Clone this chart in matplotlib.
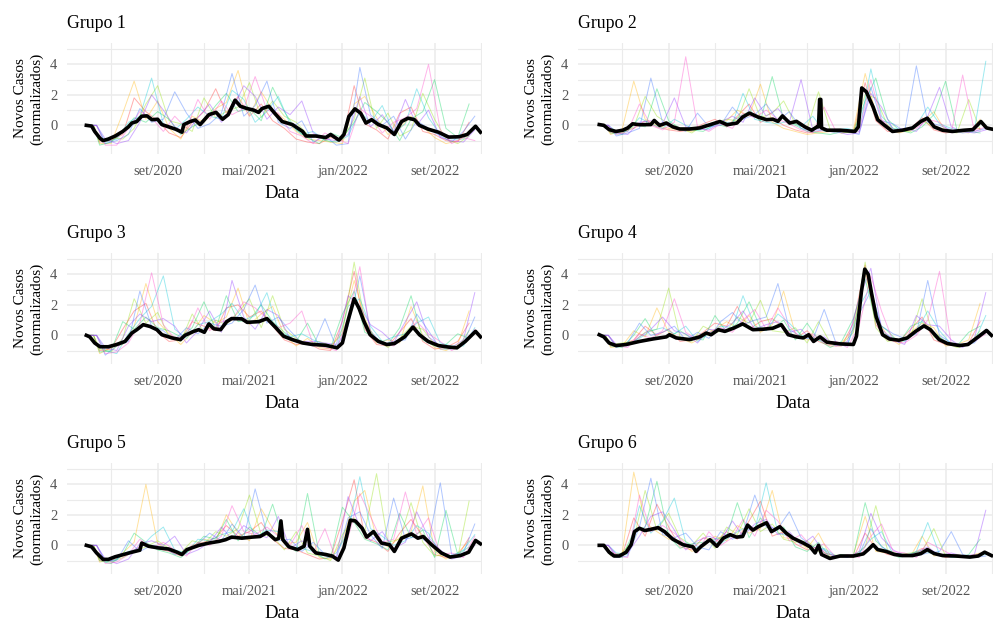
import pandas as pd
import matplotlib
matplotlib.use("Agg")
import matplotlib.pyplot as plt

W, H = 995, 622
GRID = "#EBEBEB"
TICK = "#555555"
CORES = ["#FF2A2A", "#FFB300", "#8FE000", "#00D65A", "#00C8D8", "#2F6BFF", "#8A2BFF", "#FF3DC8"]

plt.rcParams.update({
    "font.family": ["Liberation Serif", "DejaVu Serif"],
    "figure.facecolor": "white", "axes.facecolor": "white",
})

# ---------------- media do grupo (linha preta) ----------------
datas_g1 = ["2020-02-26", "2020-03-11", "2020-03-19", "2020-04-02", "2020-04-10", "2020-04-24", "2020-05-12",
            "2020-06-01", "2020-06-16", "2020-06-25", "2020-07-08", "2020-07-21", "2020-08-04", "2020-08-17",
            "2020-09-01", "2020-09-12", "2020-09-30", "2020-10-18", "2020-11-04", "2020-11-09", "2020-11-26",
            "2020-12-09", "2020-12-22", "2021-01-14", "2021-02-02", "2021-02-19", "2021-03-06", "2021-03-24",
            "2021-04-07", "2021-04-25", "2021-05-12", "2021-05-25", "2021-06-03", "2021-06-21", "2021-07-08",
            "2021-07-26", "2021-08-22", "2021-09-18", "2021-09-27", "2021-10-23", "2021-11-18", "2021-12-01",
            "2021-12-23", "2022-01-05", "2022-01-18", "2022-02-03", "2022-02-18", "2022-03-04", "2022-03-19",
            "2022-04-06", "2022-04-28", "2022-05-18", "2022-06-06", "2022-06-23", "2022-07-10", "2022-07-23",
            "2022-08-15", "2022-09-11", "2022-10-08", "2022-11-04", "2022-11-26", "2022-12-18", "2022-12-31"]
media_g1 = [0, -0.05, -0.4, -0.85, -1.0, -0.9, -0.7, -0.4, -0.1, 0.15, 0.25, 0.6, 0.62, 0.37, 0.4, 0.05, -0.1,
            -0.25, -0.45, 0.05, 0.25, 0.35, 0.05, 0.7, 0.85, 0.4, 0.7, 1.65, 1.25, 1.1, 1.0, 0.85, 1.1, 1.25, 0.75,
            0.25, 0.05, -0.4, -0.7, -0.7, -0.8, -0.6, -0.97, -0.6, 0.58, 1.08, 0.8, 0.15, 0.37, 0.05, -0.17, -0.6,
            0.25, 0.47, 0.37, 0, -0.25, -0.45, -0.77, -0.75, -0.6, -0.06, -0.45]

datas_g2 = ["2020-03-02", "2020-03-14", "2020-03-28", "2020-04-15", "2020-05-03", "2020-05-16", "2020-05-29",
            "2020-06-16", "2020-07-16", "2020-07-25", "2020-08-08", "2020-08-26", "2020-09-12", "2020-09-30",
            "2020-10-26", "2020-11-22", "2020-12-19", "2021-01-14", "2021-02-02", "2021-02-28", "2021-03-15",
            "2021-04-02", "2021-04-25", "2021-05-17", "2021-06-03", "2021-06-16", "2021-06-28", "2021-07-17",
            "2021-08-04", "2021-08-26", "2021-09-13", "2021-09-27", "2021-10-01", "2021-10-04", "2021-10-07",
            "2021-10-09", "2021-10-23", "2021-11-27", "2022-01-05", "2022-01-14", "2022-01-23", "2022-02-04",
            "2022-02-22", "2022-03-06", "2022-03-24", "2022-04-14", "2022-05-10", "2022-06-06", "2022-06-28",
            "2022-07-15", "2022-08-02", "2022-08-24", "2022-09-19", "2022-10-20", "2022-11-12", "2022-12-03",
            "2022-12-18", "2022-12-31"]
media_g2 = [0.05, 0, -0.28, -0.4, -0.32, -0.17, 0.1, 0.04, 0.05, 0.32, 0, 0.15, -0.1, -0.24, -0.24, -0.17, 0.04,
            0.25, 0.04, 0.15, 0.54, 0.8, 0.54, 0.37, 0.4, 0.26, 0.62, 0.15, 0.26, -0.1, -0.32, -0.1, -0.1, 1.7, 1.7,
            -0.17, -0.32, -0.32, -0.4, -0.1, 2.45, 2.2, 1.2, 0.37, 0, -0.4, -0.32, -0.17, 0.26, 0.47, -0.1, -0.32,
            -0.4, -0.32, -0.28, 0.25, -0.17, -0.24]

datas_g3 = ["2020-02-26", "2020-03-06", "2020-03-19", "2020-04-02", "2020-04-24", "2020-05-16", "2020-06-07",
            "2020-06-25", "2020-07-08", "2020-07-25", "2020-08-12", "2020-08-30", "2020-09-12", "2020-10-09",
            "2020-10-31", "2020-11-12", "2020-12-05", "2020-12-18", "2021-01-02", "2021-01-14", "2021-01-27",
            "2021-02-14", "2021-03-02", "2021-03-15", "2021-04-11", "2021-04-25", "2021-05-26", "2021-06-16",
            "2021-07-08", "2021-07-30", "2021-08-22", "2021-09-18", "2021-10-14", "2021-11-18", "2021-12-18",
            "2022-01-01", "2022-01-14", "2022-02-01", "2022-02-14", "2022-02-27", "2022-03-15", "2022-04-06",
            "2022-04-28", "2022-05-18", "2022-06-14", "2022-07-06", "2022-07-23", "2022-08-15", "2022-09-11",
            "2022-10-08", "2022-10-30", "2022-11-21", "2022-12-18", "2022-12-31"]
media_g3 = [0, -0.1, -0.5, -0.75, -0.75, -0.6, -0.4, 0.15, 0.37, 0.7, 0.58, 0.37, 0.04, -0.17, -0.28, 0, 0.26,
            0.37, 0.2, 0.75, 0.43, 0.37, 0.9, 1.1, 1.08, 0.85, 0.9, 1.1, 0.54, -0.06, -0.28, -0.5, -0.6, -0.65,
            -0.82, -0.5, 0.8, 2.4, 1.76, 0.9, 0.04, -0.4, -0.6, -0.54, -0.1, 0.54, 0.04, -0.4, -0.67, -0.77, -0.82,
            -0.4, 0.26, -0.1]

datas_g4 = ["2020-03-02", "2020-03-14", "2020-03-28", "2020-04-15", "2020-05-12", "2020-06-16", "2020-07-21",
            "2020-08-26", "2020-09-03", "2020-09-21", "2020-10-26", "2020-11-22", "2020-12-09", "2020-12-22",
            "2021-01-10", "2021-01-27", "2021-02-19", "2021-03-15", "2021-04-11", "2021-05-08", "2021-06-03",
            "2021-06-25", "2021-07-13", "2021-08-04", "2021-08-22", "2021-09-05", "2021-09-18", "2021-10-05",
            "2021-10-23", "2021-11-27", "2022-01-01", "2022-01-09", "2022-01-22", "2022-01-31", "2022-02-09",
            "2022-02-18", "2022-03-02", "2022-03-19", "2022-04-06", "2022-05-01", "2022-05-23", "2022-06-14",
            "2022-07-06", "2022-07-23", "2022-08-15", "2022-09-06", "2022-10-08", "2022-10-30", "2022-11-26",
            "2022-12-18", "2022-12-31"]
media_g4 = [0.04, -0.1, -0.5, -0.67, -0.6, -0.4, -0.24, -0.1, 0.04, -0.17, -0.28, -0.1, 0.15, 0.04, 0.37, 0.26,
            0.47, 0.75, 0.37, 0.4, 0.47, 0.7, 0.04, -0.1, -0.17, 0.04, -0.4, -0.1, -0.45, -0.56, -0.6, -0.06, 2.84,
            4.34, 4.0, 2.73, 1.22, 0.04, -0.24, -0.32, -0.17, 0.26, 0.62, 0.37, -0.28, -0.54, -0.67, -0.6, -0.1,
            0.32, 0]

datas_g5 = ["2020-02-26", "2020-03-11", "2020-03-24", "2020-04-10", "2020-04-24", "2020-05-12", "2020-06-03",
            "2020-06-25", "2020-07-16", "2020-07-21", "2020-08-08", "2020-09-03", "2020-09-30", "2020-10-22",
            "2020-11-04", "2020-11-17", "2020-12-19", "2021-01-14", "2021-02-10", "2021-02-27", "2021-03-15",
            "2021-04-11", "2021-05-08", "2021-05-29", "2021-06-16", "2021-07-08", "2021-07-17", "2021-07-23",
            "2021-07-28", "2021-08-13", "2021-09-05", "2021-09-22", "2021-10-01", "2021-10-07", "2021-10-23",
            "2021-11-18", "2021-12-05", "2021-12-21", "2022-01-05", "2022-01-22", "2022-02-04", "2022-02-22",
            "2022-03-06", "2022-03-24", "2022-04-14", "2022-05-05", "2022-05-18", "2022-06-06", "2022-07-02",
            "2022-07-19", "2022-08-02", "2022-08-24", "2022-09-19", "2022-10-12", "2022-11-08", "2022-11-30",
            "2022-12-18", "2022-12-31"]
media_g5 = [0, -0.1, -0.5, -0.92, -0.92, -0.75, -0.6, -0.45, -0.32, 0.15, -0.06, -0.17, -0.24, -0.45, -0.6, -0.28,
            0, 0.15, 0.26, 0.37, 0.54, 0.47, 0.54, 0.58, 0.84, 0.37, 0.45, 1.6, 0.37, -0.1, -0.28, -0.06, 1.05,
            -0.06, -0.5, -0.6, -0.7, -0.97, -0.17, 1.65, 1.6, 1.12, 0.54, 0.9, 0.15, 0.04, -0.4, 0.47, 0.75, 0.47,
            0.58, 0.04, -0.5, -0.77, -0.67, -0.45, 0.32, 0.1]

datas_g6 = ["2020-03-02", "2020-03-14", "2020-03-28", "2020-04-10", "2020-04-24", "2020-05-12", "2020-05-25",
            "2020-06-03", "2020-06-16", "2020-06-30", "2020-07-16", "2020-08-04", "2020-08-21", "2020-09-12",
            "2020-10-09", "2020-11-04", "2020-11-12", "2020-11-26", "2020-12-19", "2021-01-06", "2021-01-23",
            "2021-02-10", "2021-02-27", "2021-03-15", "2021-03-28", "2021-04-11", "2021-04-25", "2021-05-17",
            "2021-05-30", "2021-06-21", "2021-07-08", "2021-07-26", "2021-08-22", "2021-09-09", "2021-09-22",
            "2021-10-01", "2021-10-09", "2021-10-31", "2021-11-27", "2022-01-01", "2022-01-27", "2022-02-09",
            "2022-02-22", "2022-03-06", "2022-03-28", "2022-04-19", "2022-05-10", "2022-06-06", "2022-06-28",
            "2022-07-15", "2022-08-02", "2022-08-24", "2022-09-28", "2022-11-04", "2022-11-26", "2022-12-13",
            "2022-12-31"]
media_g6 = [0, 0, -0.45, -0.7, -0.7, -0.45, 0.04, 0.9, 1.12, 0.97, 1.05, 1.16, 0.9, 0.4, 0.04, -0.1, -0.4, -0.06,
            0.37, -0.06, 0.47, 0.7, 0.54, 0.58, 1.33, 1.0, 1.22, 1.48, 0.9, 1.22, 0.8, 0.47, 0.15, -0.1, -0.5, 0,
            -0.6, -0.86, -0.7, -0.7, -0.56, -0.28, 0.04, -0.28, -0.4, -0.6, -0.67, -0.67, -0.54, -0.28, -0.54,
            -0.67, -0.7, -0.77, -0.7, -0.45, -0.67]

# ---------------- series individuais (linhas finas, mensais) ----------------
finas_g1 = [
    [0, 0, -1.1, -1.0, -0.6, 1.8, 0.9, 0.3, -0.5, -0.8, 0.2, 0.9, 2.4, 0.8, 1.9, 0.6, 1.4, 0.3, -0.2, -0.9, -1.1, -1.2, -0.8, -1.0, 2.6, 0.1, -0.3, -0.9, 0.8, 1.2, -0.4, -0.6, -1.0, -1.1, 0.2],
    [0, 0, -1.2, -1.2, 0.8, 2.9, 0.4, 1.6, -0.2, -0.9, 0.6, 0.2, 1.1, 1.5, 3.6, 0.7, 2.2, 1.0, 0.4, -0.4, -0.9, -1.0, -1.1, -1.2, 1.4, 1.9, 0.5, -0.6, -0.2, 0.6, -0.1, -0.8, -1.2, -1.0, -0.6],
    [0, 0, -1.0, -0.8, -0.9, -0.2, 1.4, 2.6, 0.3, 0.1, -0.4, 1.8, 0.5, 0.9, 1.2, 2.8, 0.5, 1.6, 0.6, 0.2, -0.6, -0.8, -1.1, -0.9, 0.4, 3.1, -0.2, 0.8, -0.7, -0.3, 2.1, 0.4, -0.9, -1.2, -0.7],
    [0, 0, -1.3, -1.1, -0.4, 0.5, 0.2, 0.9, 0.4, -0.6, -0.1, 0.3, 1.3, 2.1, 0.9, 1.1, 0.3, 2.5, 0.9, -0.3, -0.8, -1.2, -0.5, -0.8, 0.2, 1.5, 0.9, 0.2, -1.0, 0.4, 0.9, 3.0, -0.2, -0.8, 1.4],
    [0, 0, -1.1, -0.9, 0.2, 0.6, 3.1, 0.1, -0.3, 0.4, 1.2, 0.6, 0.4, 2.3, 1.7, 0.2, 0.9, 1.9, 0.1, -0.6, -0.4, -1.0, -1.1, -0.7, 0.9, 0.2, 1.3, -0.5, 0.1, 2.4, 0.5, -0.6, -0.9, -0.9, 0.0],
    [0, 0, -1.2, -1.0, -0.6, 1.1, 0.2, 0.4, 2.2, 0.8, -0.2, 0.1, 0.8, 3.4, 0.6, 1.3, 2.9, 0.2, -0.2, 0.3, -1.1, -0.7, -1.3, -1.2, 3.8, 0.7, 0.0, 0.6, -0.9, 0.3, -0.2, -0.7, -1.1, -0.4, 0.6],
    [0, 0, -0.9, -1.2, -1.0, 0.2, 2.0, 1.0, -0.1, -0.5, 0.5, 1.4, 0.2, 1.0, 2.6, 1.9, 0.4, 1.2, 0.7, 1.6, -0.5, -0.9, -1.0, -0.6, 1.9, -0.1, 0.7, -0.4, 1.7, 0.0, 1.0, -0.8, -1.0, -1.1, -0.3],
    [0, 0, -1.3, -1.3, -0.2, 0.9, 0.5, -0.4, 0.6, -0.2, 1.7, 0.4, 1.6, 0.7, 1.1, 3.2, 1.0, 0.8, -0.4, -0.7, -1.2, -0.5, -0.9, -1.2, 1.1, 0.6, -0.5, 0.2, 0.5, 1.1, 4.0, -0.3, -1.2, -0.8, -1.0],
]
finas_g2 = [
    [0, 0, -0.5, -0.4, -0.2, 0.3, -0.1, -0.3, -0.4, -0.3, 0.1, 0.4, -0.1, 0.6, 1.4, 0.2, 0.5, 0.0, -0.3, -0.5, -0.4, -0.3, -0.4, -0.5, 2.8, 0.3, -0.4, -0.4, -0.2, 0.5, -0.3, -0.5, -0.4, -0.3, -0.2],
    [0, 0, -0.6, -0.3, 2.9, 0.4, 0.0, -0.2, -0.3, -0.4, -0.1, 0.2, 0.3, 1.0, 0.6, 2.7, 0.2, -0.2, -0.4, -0.6, -0.5, -0.4, -0.5, -0.3, 3.4, 0.8, -0.2, -0.5, -0.3, 0.2, 0.9, -0.4, -0.4, -0.5, 0.4],
    [0, 0, -0.4, -0.5, -0.1, 1.9, 0.6, 0.1, -0.2, -0.5, 0.0, 0.2, 0.4, 0.3, 2.4, 0.5, 0.8, 1.6, 0.1, -0.2, 2.2, -0.3, -0.5, -0.4, 2.0, 1.8, 0.0, -0.4, -0.4, 0.3, -0.1, -0.4, -0.5, 1.7, -0.3],
    [0, 0, -0.5, -0.6, 0.1, -0.1, 2.4, 0.3, -0.2, -0.3, -0.4, 0.1, -0.1, 0.5, 0.9, 0.3, 3.2, 0.4, 0.0, -0.4, -0.5, -0.6, -0.4, -0.5, 1.6, 3.1, 0.4, -0.3, -0.5, -0.1, 0.7, 2.9, -0.3, -0.4, -0.5],
    [0, 0, -0.4, -0.4, 0.5, 0.1, -0.2, 0.4, 0.0, -0.3, -0.2, 0.3, 0.1, 2.1, 0.4, 0.2, 0.1, 0.3, -0.1, 0.6, -0.4, -0.3, -0.2, -0.4, 3.7, 0.6, -0.2, -0.3, 0.0, 1.2, 0.1, -0.2, -0.4, -0.3, 4.2],
    [0, 0, -0.7, -0.5, -0.2, 3.1, 0.2, -0.1, -0.4, 0.8, -0.1, 0.0, 1.2, 0.4, 0.7, 1.4, 0.3, 0.9, -0.2, -0.4, -0.3, -0.5, -0.4, -0.6, 2.5, 0.3, 0.1, -0.4, 3.9, 0.2, 0.0, -0.3, -0.5, -0.4, -0.2],
    [0, 0, -0.5, -0.6, 0.2, 0.3, 0.1, 1.8, -0.1, -0.2, -0.3, 0.2, 0.6, 0.2, 1.8, 0.6, 1.1, 0.2, 3.0, -0.3, -0.2, -0.4, -0.6, -0.5, 2.1, 1.2, -0.3, -0.2, -0.4, 0.6, 2.5, -0.1, -0.4, -0.5, -0.3],
    [0, 0, -0.6, -0.4, 1.4, 0.0, -0.3, 0.2, 4.5, -0.1, -0.4, 0.1, -0.2, 0.8, 0.5, 1.0, 0.4, 0.1, -0.3, -0.5, 1.2, -0.4, -0.3, -0.4, 3.0, 0.4, -0.4, -0.3, -0.2, 0.4, 0.2, -0.5, 3.3, -0.4, -0.1],
]
finas_g3 = [
    [0, 0, -1.0, -0.9, 0.4, 1.6, 2.1, 0.2, -0.4, -0.3, 0.9, 0.6, 0.3, 1.8, 2.0, 1.2, 1.6, 0.6, -0.3, -0.6, -0.5, -0.9, -1.0, 0.9, 4.2, 0.4, -0.6, -0.7, 0.2, 1.1, -0.4, -0.9, -0.8, -0.4, 0.8],
    [0, 0, -1.2, -0.8, -0.6, 0.6, 3.4, 0.9, 0.1, -0.6, 0.2, 1.3, 0.8, 1.2, 3.1, 0.7, 1.4, 1.9, 0.0, -0.7, -0.2, -0.8, -0.9, 0.4, 3.6, 1.1, -0.5, -0.3, -0.5, 1.9, 0.0, -0.8, -1.0, -0.6, 1.6],
    [0, 0, -0.9, -1.1, -0.2, 2.4, 0.8, 1.5, -0.1, -0.4, 1.4, 0.2, 1.0, 0.7, 1.5, 2.4, 0.5, 2.6, 0.4, -0.2, -0.6, -0.4, -0.7, 0.1, 4.8, 0.9, -0.3, -0.8, -0.2, 0.6, 0.4, -0.6, -0.9, -0.8, 0.3],
    [0, 0, -1.1, -1.0, 0.9, 0.4, 1.2, 0.5, 0.3, -0.1, 0.5, 2.2, 0.4, 2.6, 0.9, 1.0, 2.0, 0.9, 0.2, -0.4, 0.8, -0.7, -0.8, 1.4, 2.9, 0.2, -0.2, -0.6, 0.5, 2.6, -0.3, -0.7, -0.6, 0.1, -0.2],
    [0, 0, -1.0, -1.2, 0.1, 1.1, 1.9, 3.9, 0.4, -0.2, 0.7, 0.9, 1.4, 2.1, 1.0, 1.3, 2.8, 0.3, -0.1, 0.1, -0.3, -0.6, -0.9, 1.9, 2.4, 0.6, -0.4, -0.1, 0.1, 0.8, 1.2, -0.5, -0.7, -0.7, 0.5],
    [0, 0, -1.3, -0.7, -0.4, 2.9, 0.6, 0.3, -0.3, 0.5, 0.1, 0.8, 0.6, 0.8, 1.7, 3.3, 0.8, 1.2, 0.3, -0.5, -0.7, 1.1, -0.8, 0.6, 3.9, 0.3, -0.6, -0.4, -0.3, 1.4, 0.3, -0.9, -0.9, -0.5, 1.2],
    [0, 0, -0.8, -1.0, 0.6, 1.4, 0.9, 1.1, 0.6, -0.5, 0.3, 1.6, 0.2, 3.6, 1.2, 0.4, 1.7, 1.3, -0.2, -0.4, -0.4, -0.5, -0.6, 2.6, 1.9, 0.7, 0.2, -0.5, 0.9, 2.2, -0.1, -0.7, -0.8, -0.3, 2.8],
    [0, 0, -1.2, -1.1, -0.5, 0.8, 4.1, 0.7, -0.2, 0.0, 1.8, 0.3, 0.9, 1.0, 2.2, 1.8, 1.1, 0.5, 0.8, 1.6, -0.6, -0.8, -1.0, 1.2, 4.5, 0.1, -0.5, -0.7, 0.0, 0.9, 0.1, -0.4, -1.0, -0.6, 0.4],
]
finas_g4 = [
    [0, 0, -0.7, -0.6, -0.3, 0.6, 0.0, 0.4, -0.4, -0.3, 0.2, 0.8, 0.6, 1.9, 0.4, 0.9, 1.1, 0.5, -0.2, 0.3, -0.4, -0.7, -0.7, 0.8, 4.6, 0.7, -0.3, -0.4, 0.4, 1.2, -0.3, -0.6, -0.7, -0.5, 0.9],
    [0, 0, -0.8, -0.7, 0.3, -0.1, 1.8, 0.2, -0.2, -0.5, -0.1, 0.4, 0.9, 0.5, 1.3, 0.2, 0.7, 2.9, 0.1, -0.3, -0.2, -0.6, -0.5, 0.4, 4.1, 1.3, -0.1, -0.6, 0.2, 0.8, 0.5, -0.7, -0.6, -0.3, 2.1],
    [0, 0, -0.6, -0.5, -0.4, 0.2, 0.4, 3.1, -0.1, -0.4, 0.6, 0.2, 0.3, 1.2, 0.8, 2.3, 0.3, 0.2, 0.5, -0.5, 0.9, -0.5, -0.6, 0.2, 4.8, 0.5, -0.4, -0.3, -0.1, 2.4, -0.1, -0.5, -0.8, -0.6, 0.3],
    [0, 0, -0.7, -0.8, 0.0, 1.1, -0.2, -0.1, 0.3, -0.2, -0.3, 1.3, 0.2, 0.8, 2.2, 0.5, 0.4, 1.0, -0.3, 0.8, -0.3, -0.8, -0.4, 1.1, 3.7, 0.9, 0.3, -0.5, 0.6, 0.9, 0.2, -0.4, -0.7, 0.2, 0.6],
    [0, 0, -0.7, -0.6, -0.2, 0.3, 0.5, 0.1, 0.6, -0.4, 0.1, 0.6, 0.5, 2.6, 0.6, 0.3, 1.4, 0.8, 0.0, -0.2, -0.4, -0.6, -0.7, 1.9, 3.2, 0.2, -0.2, -0.4, 0.3, 1.6, 0.3, -0.6, -0.7, -0.4, 1.3],
    [0, 0, -0.8, -0.5, 0.8, 0.0, 0.2, 0.6, -0.3, 0.2, -0.2, 0.9, 1.5, 0.7, 1.0, 1.2, 3.4, 0.4, -0.1, -0.3, 1.7, -0.5, -0.6, 1.4, 2.9, 0.6, 0.1, -0.2, 0.1, 3.6, 0.0, -0.5, -0.6, -0.5, 0.4],
    [0, 0, -0.6, -0.7, -0.1, 0.4, 1.2, 0.3, 0.1, -0.5, 0.4, 0.3, 0.8, 1.6, 0.4, 0.7, 0.9, 0.2, 0.4, -0.4, -0.1, -0.7, -0.4, 2.4, 4.4, 0.4, -0.3, -0.6, 1.3, 0.7, 0.6, -0.3, -0.8, -0.2, 2.8],
    [0, 0, -0.7, -0.8, 0.1, -0.2, 0.3, 2.4, 0.2, -0.3, 0.2, 0.5, 0.2, 1.0, 1.7, 0.4, 1.8, 0.6, -0.2, 0.1, -0.5, -0.4, -0.8, 0.6, 3.9, 1.6, -0.4, -0.5, 0.0, 1.0, 4.2, -0.6, -0.6, -0.4, 0.1],
]
finas_g5 = [
    [0, 0, -1.0, -1.0, -0.7, -0.3, 0.1, -0.2, -0.4, -0.7, 0.0, 0.2, 0.5, 1.3, 0.6, 0.9, 1.5, 0.4, -0.2, -0.3, -0.6, -0.9, -0.8, 1.6, 4.3, 0.5, 0.2, -0.4, 0.8, 1.7, 0.6, -0.6, -0.8, -0.7, 0.5],
    [0, 0, -1.1, -0.9, -0.5, 0.2, 4.0, 0.1, -0.3, -0.6, -0.1, 0.4, 0.2, 2.0, 0.8, 0.3, 2.4, 1.1, 0.1, 0.2, 1.5, -0.8, -0.9, 0.3, 2.9, 3.6, 0.4, -0.1, 0.5, 0.9, 3.9, -0.4, -0.9, -0.5, 0.3],
    [0, 0, -0.9, -1.1, -0.8, -0.4, -0.1, 0.3, -0.2, -0.5, 0.3, 0.1, 0.9, 0.6, 1.1, 3.3, 0.7, 0.6, -0.3, 0.9, -0.5, -0.7, -1.0, 0.7, 1.8, 0.9, 4.7, 0.2, 0.4, 2.8, 0.2, -0.7, -0.6, -0.8, 2.9],
    [0, 0, -1.0, -1.2, -0.6, 0.8, 0.2, -0.3, -0.5, -0.8, -0.2, 0.6, 0.4, 1.7, 0.3, 1.2, 0.6, 2.7, 0.2, -0.4, 3.4, -0.6, -0.8, 2.5, 1.5, 0.4, 0.1, -0.3, 2.1, 0.5, 1.0, -0.8, 2.3, -0.6, -0.1],
    [0, 0, -1.1, -0.9, -0.4, -0.2, 0.6, 1.2, -0.3, -0.5, 0.4, 0.3, 0.7, 0.9, 2.4, 0.5, 1.0, 0.9, -0.1, -0.2, -0.4, -0.9, -0.5, 0.9, 4.5, 1.1, 0.6, 0.0, 0.3, 1.3, 0.8, -0.5, -0.7, -0.3, 0.7],
    [0, 0, -1.0, -1.0, 0.3, -0.4, 0.0, -0.1, -0.6, -0.4, 0.1, 0.8, 0.3, 1.4, 0.5, 3.7, 0.8, 0.3, 0.4, -0.4, 0.2, -0.6, -0.9, 1.8, 2.2, 0.7, -0.2, 3.1, 0.4, 0.6, 0.2, 4.1, -0.6, -0.5, 1.4],
    [0, 0, -0.9, -1.2, -0.9, 0.1, 0.3, 0.0, 0.6, -0.6, -0.3, 0.2, 1.2, 0.4, 1.3, 0.8, 0.5, 1.9, -0.2, 0.3, -0.3, -0.7, -0.8, 3.2, 1.2, 0.3, 0.9, -0.2, 0.2, 2.2, 0.5, -0.3, -0.9, -0.7, 0.0],
    [0, 0, -1.2, -1.1, -0.6, 0.4, -0.2, 0.2, -0.3, -0.7, 0.2, 0.0, 0.6, 2.6, 0.9, 0.7, 1.2, 0.6, 0.0, 1.3, -0.5, 1.1, -1.0, 0.5, 3.4, 1.9, 0.2, 0.4, 3.5, 0.7, 1.8, -0.6, -0.5, -0.8, 0.6],
]
finas_g6 = [
    [0, 0, -0.6, -0.7, 1.8, 0.6, 2.7, 1.2, -0.1, -0.3, 0.5, 0.2, 0.9, 0.4, 1.6, 2.9, 0.6, 0.9, 0.1, -0.3, -0.1, -0.8, -0.7, -0.8, 0.8, -0.2, -0.6, -0.7, -0.6, -0.2, -0.5, -0.8, -0.7, -0.8, -0.6],
    [0, 0, -0.5, -0.6, 4.8, 1.5, 0.9, 0.4, 0.3, -0.4, -0.1, 0.6, 0.3, 1.3, 0.8, 1.1, 3.6, 0.5, 0.4, -0.2, 0.8, -0.7, -0.8, -0.6, 1.9, -0.4, -0.5, -0.6, -0.7, 0.6, -0.7, -0.6, -0.8, -0.7, -0.5],
    [0, 0, -0.7, -0.5, 0.4, 3.6, 1.0, 2.1, 0.5, 0.0, 0.8, -0.2, 1.2, 0.7, 2.4, 0.9, 1.4, 0.4, 0.2, 0.3, -0.4, -0.6, -0.7, -0.7, -0.1, 2.6, -0.3, -0.6, -0.5, -0.4, 1.1, -0.7, -0.6, -0.8, -0.7],
    [0, 0, -0.6, -0.8, 0.9, 1.2, 4.2, 0.6, -0.2, 0.1, 0.2, 0.4, 0.6, 2.8, 0.5, 1.8, 0.9, 1.2, -0.1, -0.4, 0.2, -0.8, -0.6, -0.7, 2.8, 0.3, -0.4, -0.8, -0.6, -0.3, -0.6, -0.7, -0.8, -0.6, 0.4],
    [0, 0, -0.5, -0.6, 2.6, 0.8, 1.6, 3.1, 0.2, -0.2, 0.4, 0.1, 0.7, 1.1, 1.0, 4.1, 0.8, 0.6, 0.3, -0.3, -0.2, -0.7, -0.8, -0.5, 0.4, 0.9, -0.6, -0.7, -0.4, 1.5, -0.6, -0.8, -0.7, -0.7, -0.6],
    [0, 0, -0.8, -0.7, 1.2, 4.4, 0.7, 0.5, 0.8, -0.1, -0.3, 0.9, 0.4, 0.8, 3.3, 1.2, 1.1, 2.2, 0.5, -0.1, -0.3, -0.8, -0.7, -0.6, 1.1, -0.1, -0.5, -0.6, -0.7, -0.5, -0.4, 0.9, -0.6, -0.8, -0.7],
    [0, 0, -0.6, -0.5, 0.6, 1.9, 2.2, 1.0, -0.3, 0.3, 0.6, 0.3, 1.6, 0.6, 1.4, 1.7, 0.7, 0.9, 0.0, 0.6, -0.5, -0.7, -0.8, -0.4, 2.1, 0.5, -0.3, -0.7, -0.5, -0.1, -0.7, -0.5, -0.7, -0.6, 2.3],
    [0, 0, -0.7, -0.8, 3.3, 0.9, 1.3, 0.8, 0.1, -0.5, 0.9, 0.0, 0.5, 1.7, 0.6, 2.3, 1.6, 0.3, 0.7, -0.2, 0.1, -0.8, -0.6, -0.8, 0.6, 1.4, -0.4, -0.5, -0.8, 0.2, -0.2, -0.6, -0.8, -0.7, -0.4],
]

# inicio das series e primeira queda para cada coluna de paineis
inicio_esq = ["2020-02-26", "2020-03-16", "2020-03-24"]
inicio_dir = ["2020-03-02", "2020-03-18", "2020-03-26"]
meses_a = pd.date_range("2020-04-01", "2022-12-01", freq="MS")
meses_b = meses_a + pd.Timedelta(days=15)

grupos = [
    ("Grupo 1", datas_g1, media_g1, finas_g1, inicio_esq),
    ("Grupo 2", datas_g2, media_g2, finas_g2, inicio_dir),
    ("Grupo 3", datas_g3, media_g3, finas_g3, inicio_esq),
    ("Grupo 4", datas_g4, media_g4, finas_g4, inicio_dir),
    ("Grupo 5", datas_g5, media_g5, finas_g5, inicio_esq),
    ("Grupo 6", datas_g6, media_g6, finas_g6, inicio_dir),
]

x_major = pd.to_datetime(["2020-09-01", "2021-05-01", "2022-01-01", "2022-09-01"])
x_labels = ["set/2020", "mai/2021", "jan/2022", "set/2022"]
x_minor = pd.to_datetime(["2020-05-01", "2021-01-01", "2021-09-01", "2022-05-01", "2023-01-01"])
x_lim = (pd.Timestamp("2020-01-06"), pd.Timestamp("2023-01-04"))

# layout em pixels
COL_X = [67, 578]
ROW_Y = [43, 253, 463]
PW, PH = 415, 111

fig = plt.figure(figsize=(W / 100, H / 100), dpi=100)

for i, (titulo, datas, media, finas, inicio) in enumerate(grupos):
    x0 = COL_X[i % 2]
    y0 = ROW_Y[i // 2]
    ax = fig.add_axes([x0 / W, 1 - (y0 + PH) / H, PW / W, PH / H])

    grade_a = pd.to_datetime(inicio[:2]).append(meses_a)
    grade_b = pd.to_datetime([inicio[0], inicio[2]]).append(meses_b)
    for k, serie in enumerate(finas):
        grade = grade_a if k < 4 else grade_b
        ax.plot(grade, serie, color=CORES[k], lw=0.7, alpha=0.38, zorder=2)

    ax.plot(pd.to_datetime(datas), media, color="black", lw=2.6, zorder=3,
            solid_joinstyle="round")

    ax.set_xlim(*x_lim)
    ax.set_ylim(-1.88, 5.40)
    ax.set_xticks(x_major)
    ax.set_xticklabels(x_labels)
    ax.set_xticks(x_minor, minor=True)
    ax.set_yticks([0, 2, 4])
    ax.set_yticks([-1, 1, 3, 5], minor=True)
    ax.grid(which="major", color=GRID, lw=1.1, zorder=0)
    ax.grid(which="minor", color=GRID, lw=0.8, zorder=0)
    ax.set_axisbelow(True)
    for s in ax.spines.values():
        s.set_visible(False)
    ax.tick_params(which="both", length=0)
    ax.tick_params(axis="x", labelsize=10.5, labelcolor=TICK, pad=8)
    ax.tick_params(axis="y", labelsize=10.5, labelcolor=TICK, pad=7)

    ax.set_title(titulo, loc="left", fontsize=12.8, color="black", pad=11)
    fig.text((x0 + PW * 0.518) / W, 1 - (y0 + 151) / H, "Data", fontsize=13.5,
             ha="center", va="center")
    fig.text((x0 - 38) / W, 1 - (y0 + PH / 2) / H, "Novos Casos\n(normalizados)",
             fontsize=11, rotation=90, ha="center", va="center", multialignment="center",
             linespacing=1.25)

fig.savefig("out.png", dpi=100, facecolor="white")
